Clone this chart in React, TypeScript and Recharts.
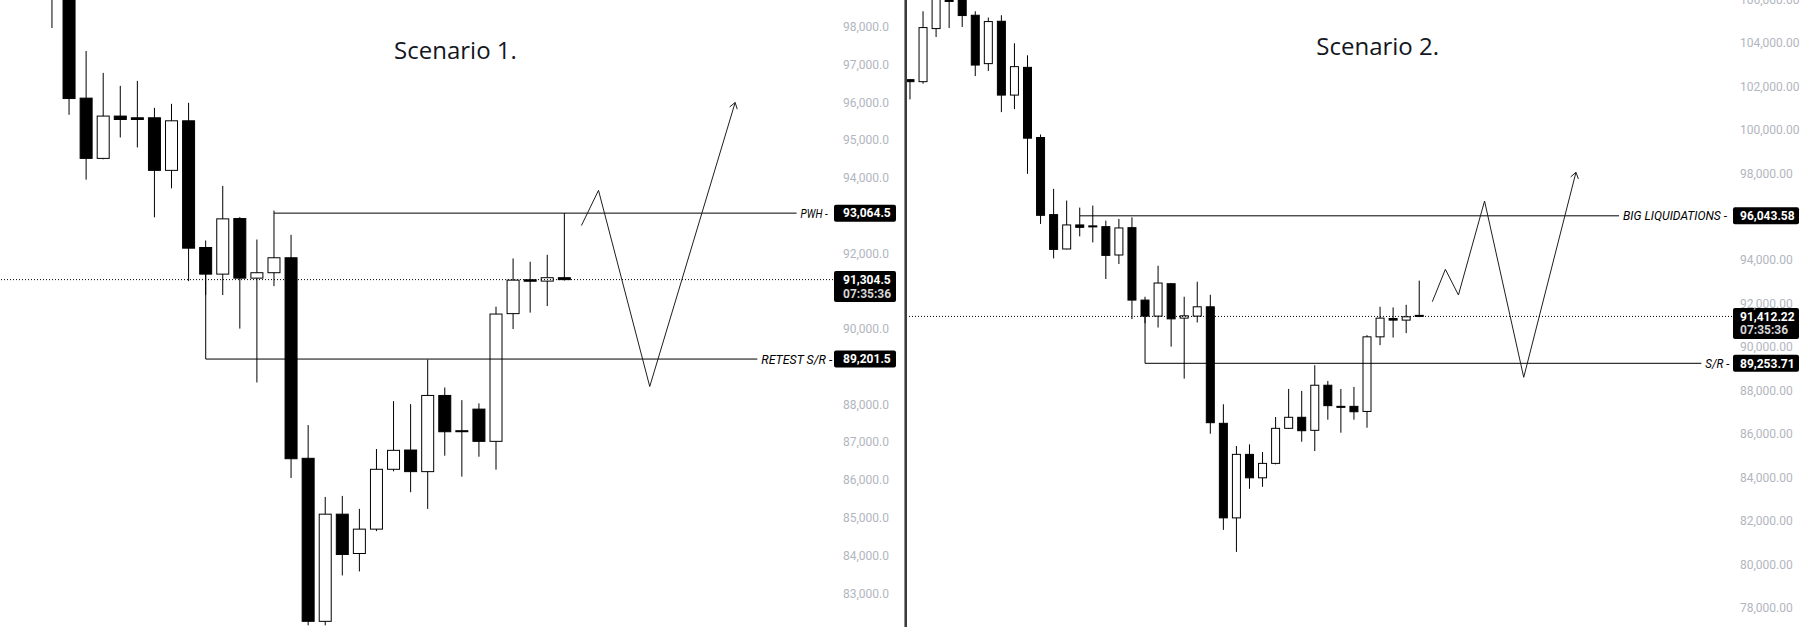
import React from "react";
import { Bar, ComposedChart, ReferenceLine, XAxis, YAxis } from "recharts";

type Pt = { x: number; y: number };

const FONT = 'Roboto, "Noto Sans", sans-serif';
const INK = "#131722";

// ---- Scenario 1 (left panel), one candle per index ----
const s1Open = [99300, 99000, 96109, 94514, 95634, 95589, 95589, 94197, 95509, 92155, 91450, 92921, 91344, 91487, 91883, 86574, 82258, 85095, 84054, 84699, 86283, 86793, 86221, 88238, 87304, 87876, 87023, 90404, 91300, 91265, 91355];
const s1High = [99500, 99300, 97358, 96777, 96434, 96566, 95853, 95958, 95985, 92340, 93784, 92960, 92366, 93132, 92490, 87454, 85552, 85578, 85235, 86820, 88088, 88008, 89189, 88449, 88114, 88027, 90589, 91864, 91778, 91962, 91380];
const s1Low = [97966, 95668, 93951, 94490, 95068, 94804, 92955, 93721, 91265, 90900, 90895, 90008, 88581, 91133, 86053, 82152, 82152, 83473, 83579, 84646, 86230, 85676, 85235, 86643, 86088, 86616, 86273, 89997, 90431, 90604, 91280];
const s1Close = [98850, 96098, 94514, 95634, 95544, 95544, 94197, 95509, 92137, 91450, 92913, 91344, 91487, 91883, 86563, 82258, 85095, 84028, 84699, 86283, 86785, 86221, 88238, 87277, 87300, 87023, 90393, 91291, 91262, 91355, 91304.5];
const s1Ticks = [98000, 97000, 96000, 95000, 94000, 92000, 90000, 88000, 87000, 86000, 85000, 84000, 83000];
const s1Pwh = 93064.5;
const s1Retest = 89201.5;
const s1Last = 91304.5;
const s1PwhLine: Pt[] = [{ x: 13, y: s1Pwh }, { x: 43.6, y: s1Pwh }];
const s1PwhDrop: Pt[] = [{ x: 30, y: s1Pwh }, { x: 30, y: 91355 }];
const s1RetestDrop: Pt[] = [{ x: 9, y: 91450 }, { x: 9, y: s1Retest }];
const s1RetestLine: Pt[] = [{ x: 9, y: s1Retest }, { x: 41.3, y: s1Retest }];
const s1Path: Pt[] = [{ x: 31, y: 92736 }, { x: 32, y: 93668 }, { x: 35, y: 88475 }, { x: 40, y: 95993 }];

// ---- Scenario 2 (right panel) ----
const s2Open = [102312, 102220, 104664, 105960, 106100, 105278, 103050, 105001, 101602, 102879, 99650, 96099, 94517, 95624, 95580, 95545, 94240, 95499, 92164, 91426, 92918, 91334, 91426, 91855, 86491, 82137, 85061, 83982, 84646, 86260, 86768, 86168, 88244, 87272, 87272, 87037, 90472, 91318, 91242, 91460];
const s2High = [102330, 105462, 106500, 106300, 106400, 105462, 105172, 105278, 103986, 103433, 99789, 97284, 96745, 96422, 96514, 95822, 95900, 95974, 92317, 93747, 92949, 92317, 93009, 92409, 87367, 85444, 85522, 85167, 86781, 88073, 87981, 89166, 88442, 88073, 88165, 90549, 91855, 91825, 91948, 93060];
const s2Low = [101403, 102127, 104277, 104692, 104738, 102478, 102709, 100817, 100956, 97976, 95670, 94083, 94500, 95098, 94821, 93133, 93825, 91288, 91100, 90900, 90020, 88548, 91132, 86011, 81584, 80569, 83475, 83567, 84600, 86230, 85642, 85214, 86657, 86057, 86657, 86288, 90089, 90441, 90641, 91380];
const s2Close = [102220, 104710, 106200, 105930, 105264, 102985, 104987, 101602, 102911, 99618, 96067, 94498, 95624, 95513, 95576, 94222, 95485, 92164, 91426, 92949, 91300, 91440, 91855, 86519, 82137, 85061, 83982, 84646, 86260, 86768, 86150, 88244, 87303, 87268, 87023, 90472, 91334, 91242, 91395, 91412.22];
const s2Ticks = [106000, 104000, 102000, 100000, 98000, 94000, 92000, 90000, 88000, 86000, 84000, 82000, 80000, 78000];
const s2Liq = 96043.58;
const s2Sr = 89253.71;
const s2Last = 91412.22;
const s2LiqLine: Pt[] = [{ x: 13, y: s2Liq }, { x: 54.3, y: s2Liq }];
const s2SrDrop: Pt[] = [{ x: 18, y: 91426 }, { x: 18, y: s2Sr }];
const s2SrLine: Pt[] = [{ x: 18, y: s2Sr }, { x: 60.6, y: s2Sr }];
const s2Path: Pt[] = [{ x: 40, y: 92089 }, { x: 41, y: 93581 }, { x: 42, y: 92398 }, { x: 44, y: 96726 }, { x: 47, y: 88609 }, { x: 51, y: 98047 }];

const countdown = "07:35:36";

const toCandles = (o: number[], h: number[], l: number[], c: number[]) =>
  o.map((open, i) => ({ i, open, high: h[i], low: l[i], close: c[i], range: [l[i], h[i]] }));

const s1Data = toCandles(s1Open, s1High, s1Low, s1Close);
const s2Data = toCandles(s2Open, s2High, s2Low, s2Close);

// body + wick, positions interpolated inside the [low, high] rect the Bar gives us
const Candle = (props: any) => {
  const { x, y, width, height, payload } = props;
  if (!payload || !isFinite(y)) return null;
  const { open, close, high, low } = payload;
  const span = high - low || 1;
  const toY = (v: number) => y + ((high - v) / span) * height;
  const up = close >= open;
  const top = toY(Math.max(open, close));
  const bottom = toY(Math.min(open, close));
  const cx = x + width / 2;
  return (
    <g>
      <line x1={cx} x2={cx} y1={y} y2={y + height} stroke="#000" strokeWidth={1} />
      <rect
        x={x + 0.5}
        y={top}
        width={width - 1}
        height={Math.max(bottom - top, 1)}
        fill={up ? "#fff" : "#000"}
        stroke="#000"
        strokeWidth={1}
      />
    </g>
  );
};

const arrowShape = (p: any) => {
  const { x1, y1, x2, y2 } = p;
  const a = Math.atan2(y2 - y1, x2 - x1);
  const len = 7;
  const s = 0.6;
  const hx = (d: number) => x2 - len * Math.cos(a + d);
  const hy = (d: number) => y2 - len * Math.sin(a + d);
  return (
    <path
      d={`M${x1},${y1}L${x2},${y2}M${hx(s)},${hy(s)}L${x2},${y2}L${hx(-s)},${hy(-s)}`}
      stroke="#1e1e1e"
      strokeWidth={1}
      fill="none"
    />
  );
};

// italic caption at the right end of a drawn level; width fixed to the one in the screenshot
const lineText = (text: string, w: number) => (p: any) => {
  const vb = p.viewBox;
  if (!vb) return null;
  return (
    <text
      x={vb.x + vb.width + 4}
      y={vb.y + 4.5}
      fill="#000"
      fontFamily={FONT}
      fontStyle="italic"
      fontSize={12}
      textLength={w}
      lengthAdjust="spacingAndGlyphs"
    >
      {text}
    </text>
  );
};

const priceTag = (text: string, w: number, pad: number, sub?: string) => (p: any) => {
  const vb = p.viewBox;
  if (!vb) return null;
  const x = vb.x + vb.width + 1;
  const y = vb.y;
  return (
    <g>
      <rect x={x} y={y - 8.5} width={w} height={sub ? 31 : 17} rx={2} fill="#000" />
      <text x={x + pad} y={y + 4.3} fill="#fff" fontFamily={FONT} fontWeight={700} fontSize={12}>
        {text}
      </text>
      {sub && (
        <text x={x + pad} y={y + 18} fill="#d6d6d6" fontFamily={FONT} fontWeight={700} fontSize={12}>
          {sub}
        </text>
      )}
    </g>
  );
};

const seg = (pts: Pt[], key: string, extra: any = {}) => (
  <ReferenceLine key={key} segment={pts} stroke="#000" strokeWidth={1} ifOverflow="visible" {...extra} />
);

const pathSegs = (pts: Pt[], key: string) =>
  pts.slice(1).map((p, k) =>
    seg([pts[k], p], `${key}-${k}`, {
      stroke: "#1e1e1e",
      shape: k === pts.length - 2 ? arrowShape : undefined,
    })
  );

interface PanelProps {
  width: number;
  axisWidth: number;
  tickMargin: number;
  data: ReturnType<typeof toCandles>;
  xDomain: [number, number];
  yDomain: [number, number];
  yTicks: number[];
  decimals: number;
  barSize: number;
  children?: React.ReactNode;
}

function Panel({ width, axisWidth, tickMargin, data, xDomain, yDomain, yTicks, decimals, barSize, children }: PanelProps) {
  const fmt = (v: number) =>
    v.toLocaleString("en-US", { minimumFractionDigits: decimals, maximumFractionDigits: decimals });
  return (
    <ComposedChart width={width} height={627} data={data} margin={{ top: 0, right: 0, bottom: 0, left: 0 }}>
      <XAxis dataKey="i" type="number" domain={xDomain} allowDataOverflow hide ticks={data.map((d) => d.i)} />
      <YAxis
        orientation="right"
        width={axisWidth}
        domain={yDomain}
        allowDataOverflow
        ticks={yTicks}
        interval={0}
        axisLine={false}
        tickLine={false}
        tickSize={0}
        tickMargin={tickMargin}
        tickFormatter={fmt}
        tick={{ fill: "#b2b5be", fontSize: 12, fontFamily: FONT }}
      />
      {children}
      <Bar dataKey="range" barSize={barSize} shape={Candle} isAnimationActive={false} />
    </ComposedChart>
  );
}

export default function App() {
  return (
    <div
      style={{
        position: "absolute",
        left: 0,
        top: 0,
        width: 1805,
        height: 627,
        background: "#fff",
        display: "flex",
        overflow: "hidden",
      }}
    >
      <div style={{ width: 904, height: 627 }}>
        <Panel
          width={904}
          axisWidth={71}
          tickMargin={10}
          data={s1Data}
          xDomain={[-3.045, 45.73]}
          yDomain={[82108, 98707]}
          yTicks={s1Ticks}
          decimals={1}
          barSize={13}
        >
          {seg(s1PwhLine, "pwh", { label: lineText("PWH -", 27) })}
          {seg(s1PwhDrop, "pwh-drop")}
          {seg(s1RetestDrop, "ret-drop")}
          {seg(s1RetestLine, "ret", { label: lineText("RETEST S/R -", 71) })}
          {pathSegs(s1Path, "p1")}
          <ReferenceLine y={s1Last} stroke="#000" strokeDasharray="1 2" label={priceTag("91,304.5", 62, 9, countdown)} />
          <ReferenceLine y={s1Pwh} stroke="none" label={priceTag("93,064.5", 62, 9)} />
          <ReferenceLine y={s1Retest} stroke="none" label={priceTag("89,201.5", 62, 9)} />
        </Panel>
      </div>
      <div
        style={{
          width: 3,
          height: 627,
          background: "linear-gradient(to right, #8c8c8c 0, #8c8c8c 40%, #3c3c3c 40%, #3c3c3c 100%)",
        }}
      />
      <div style={{ width: 898, height: 627 }}>
        <Panel
          width={898}
          axisWidth={73}
          tickMargin={8}
          data={s2Data}
          xDomain={[-0.23, 62.95]}
          yDomain={[77113, 105980]}
          yTicks={s2Ticks}
          decimals={2}
          barSize={9}
        >
          {seg(s2LiqLine, "liq", { label: lineText("BIG LIQUIDATIONS -", 104) })}
          {seg(s2SrDrop, "sr-drop")}
          {seg(s2SrLine, "sr", { label: lineText("S/R -", 24) })}
          {pathSegs(s2Path, "p2")}
          <ReferenceLine y={s2Last} stroke="#000" strokeDasharray="1 2" label={priceTag("91,412.22", 66, 7, countdown)} />
          <ReferenceLine y={s2Liq} stroke="none" label={priceTag("96,043.58", 66, 7)} />
          <ReferenceLine y={s2Sr} stroke="none" label={priceTag("89,253.71", 66, 7)} />
        </Panel>
      </div>
      <svg
        width={1805}
        height={627}
        style={{ position: "absolute", left: 0, top: 0, pointerEvents: "none" }}
      >
        <text x={455.5} y={59} textAnchor="middle" fontFamily='"Open Sans", sans-serif' fontSize={24} fill={INK}>
          Scenario 1.
        </text>
        <text x={1377.7} y={55} textAnchor="middle" fontFamily='"Open Sans", sans-serif' fontSize={24} fill={INK}>
          Scenario 2.
        </text>
      </svg>
    </div>
  );
}
